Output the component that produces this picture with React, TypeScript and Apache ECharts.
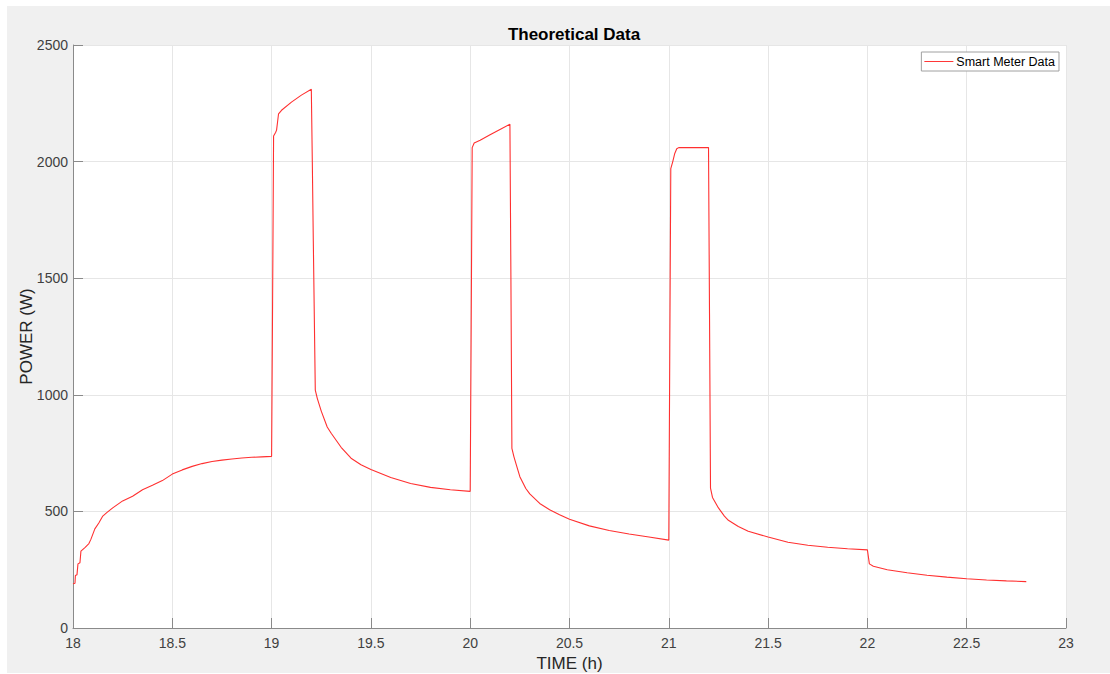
import React, { useEffect, useRef } from "react";
import * as echarts from "echarts";

const timeH: number[] = [
  18.0, 18.01, 18.012, 18.02, 18.025, 18.035, 18.04, 18.06, 18.08, 18.09, 18.11, 18.13, 18.15, 18.17,
  18.2, 18.25, 18.3, 18.35, 18.4, 18.45, 18.5, 18.55, 18.6, 18.65, 18.7, 18.75, 18.8, 18.85, 18.9, 18.95, 19.0,
  19.005, 19.01, 19.02, 19.025, 19.03, 19.035, 19.05, 19.1, 19.15, 19.2,
  19.205, 19.21, 19.22, 19.23, 19.25, 19.28, 19.3, 19.35, 19.4, 19.45, 19.5, 19.6, 19.7, 19.8, 19.9, 20.0,
  20.005, 20.01, 20.02, 20.05, 20.1, 20.15, 20.2,
  20.205, 20.21, 20.22, 20.23, 20.25, 20.28, 20.3, 20.35, 20.4, 20.45, 20.5, 20.6, 20.7, 20.8, 20.9, 21.0,
  21.005, 21.01, 21.02, 21.03, 21.04, 21.05, 21.1, 21.2,
  21.205, 21.21, 21.22, 21.25, 21.28, 21.3, 21.35, 21.4, 21.5, 21.6, 21.7, 21.8, 21.9, 22.0,
  22.005, 22.01, 22.03, 22.1, 22.2, 22.3, 22.4, 22.5, 22.6, 22.7, 22.8,
];

const powerW: number[] = [
  190, 192, 225, 228, 275, 280, 330, 345, 362, 380, 425, 450, 480, 495,
  515, 545, 565, 593, 612, 632, 660, 678, 693, 705, 714, 720, 725, 729, 732, 734, 736,
  1400, 2110, 2125, 2135, 2170, 2205, 2220, 2255, 2285, 2310,
  2000, 1660, 1020, 985, 930, 862, 835, 775, 728, 700, 680, 645, 620, 603, 593, 586,
  1300, 2060, 2080, 2092, 2115, 2138, 2160,
  1500, 770, 735, 706, 649, 598, 575, 534, 507, 486, 466, 438, 418, 403, 390, 377,
  1200, 1970, 2000, 2035, 2055, 2060, 2060, 2060,
  1350, 600, 560, 515, 480, 462, 435, 415, 390, 368, 355, 346, 340, 335,
  305, 275, 265, 250, 237, 226, 218, 211, 206, 202, 199,
];

const seriesName = "Smart Meter Data";
const titleText = "Theoretical Data";
const xName = "TIME (h)";
const yName = "POWER (W)";

const FONT = "'Liberation Sans', Arial, Helvetica, sans-serif";

export default function App() {
  const ref = useRef<HTMLDivElement>(null);
  useEffect(() => {
    if (!ref.current) return;
    const chart = echarts.init(ref.current, undefined, { renderer: "svg" });
    const data = timeH.map((t, i) => [t, powerW[i]]);
    chart.setOption({
      animation: false,
      backgroundColor: "#f0f0f0",
      textStyle: { fontFamily: FONT },
      title: {
        text: titleText,
        left: 562,
        textAlign: "center",
        top: 15,
        textStyle: { fontFamily: FONT, fontSize: 17, fontWeight: "bold", color: "#000" },
      },
      legend: {
        right: 51,
        top: 46,
        backgroundColor: "#ffffff",
        borderColor: "#a0a0a0",
        borderWidth: 1,
        borderRadius: 0,
        padding: [3, 4, 3, 3],
        itemWidth: 29,
        itemHeight: 10,
        itemGap: 4,
        textStyle: { fontFamily: FONT, fontSize: 12.5, color: "#000", padding: [0, 0, 0, -2] },
        data: [{ name: seriesName, icon: "path://M0,5 L30,5 L30,6 L0,6 Z" }],
      },
      grid: {
        left: 66,
        right: 44,
        top: 39,
        bottom: 45,
        containLabel: false,
        outerBoundsMode: "none",
        backgroundColor: "#fff",
        show: true,
        borderWidth: 0,
      },
      xAxis: {
        type: "value",
        min: 18,
        max: 23,
        interval: 0.5,
        name: xName,
        nameLocation: "middle",
        nameGap: 27,
        nameMoveOverlap: false,
        nameTextStyle: { fontFamily: FONT, fontSize: 17, color: "#262626" },
        axisLine: { show: true, onZero: false, lineStyle: { color: "#8a8a8a", width: 1 } },
        axisTick: { show: true, inside: true, length: 10, lineStyle: { color: "#8a8a8a" } },
        axisLabel: { fontFamily: FONT, fontSize: 14, color: "#404040", margin: 8, formatter: (v: number) => String(v) },
        splitLine: { show: true, lineStyle: { color: "#e6e6e6", width: 1 } },
      },
      yAxis: {
        type: "value",
        min: 0,
        max: 2500,
        interval: 500,
        name: yName,
        nameLocation: "middle",
        nameGap: 38,
        nameMoveOverlap: false,
        nameTextStyle: { fontFamily: FONT, fontSize: 17, color: "#262626" },
        axisLine: { show: true, lineStyle: { color: "#8a8a8a", width: 1 } },
        axisTick: { show: true, inside: true, length: 10, lineStyle: { color: "#8a8a8a" } },
        axisLabel: { fontFamily: FONT, fontSize: 14, color: "#404040", margin: 5, formatter: (v: number) => String(v) },
        splitLine: { show: true, lineStyle: { color: "#e6e6e6", width: 1 } },
      },
      series: [
        {
          name: seriesName,
          type: "line",
          data,
          symbol: "none",
          showSymbol: false,
          lineStyle: { color: "#ff3030", width: 1.1 },
          itemStyle: { color: "#ff3030" },
        },
      ],
    });
    return () => chart.dispose();
  }, []);
  return (
    <div
      ref={ref}
      style={{ position: "absolute", left: 7, top: 6, width: 1103, height: 667 }}
    />
  );
}
